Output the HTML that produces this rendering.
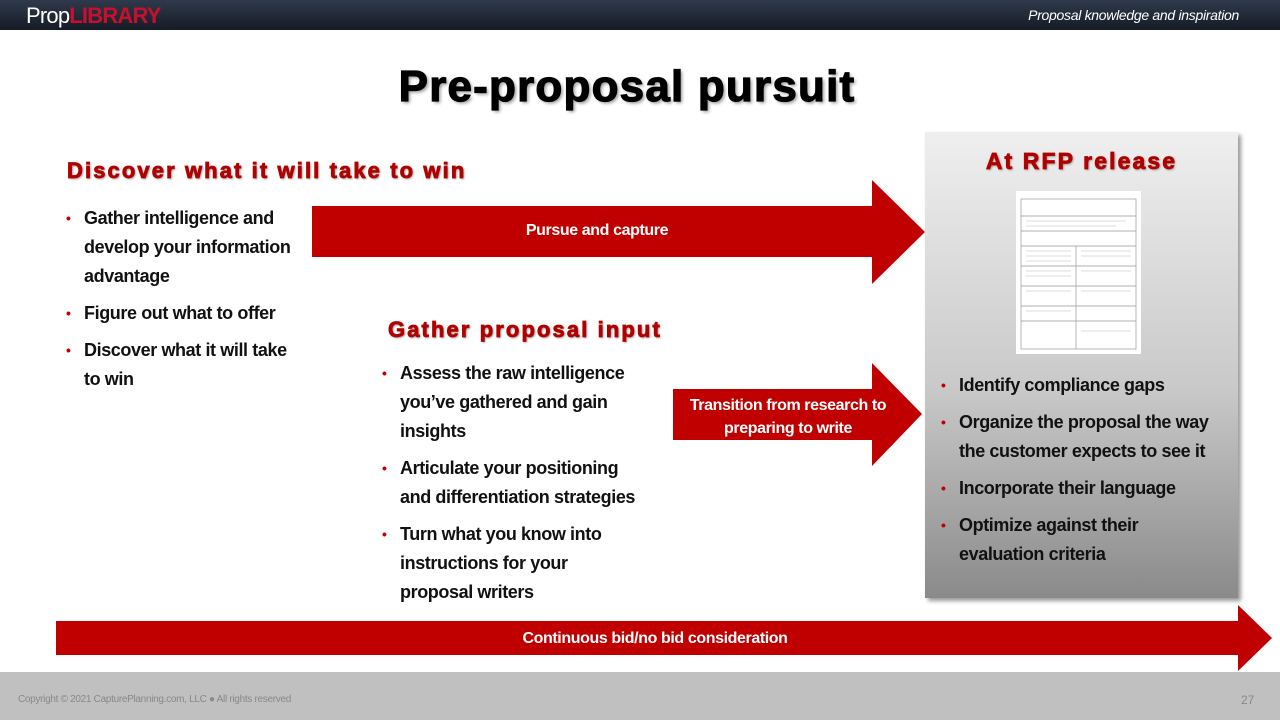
<!DOCTYPE html>
<html><head><meta charset="utf-8"><style>
*{margin:0;padding:0;box-sizing:border-box}
body{width:1280px;height:720px;position:relative;background:#fff;font-family:"Liberation Sans",sans-serif;overflow:hidden}
.abs{position:absolute}
.top{left:0;top:0;width:1280px;height:30px;background:linear-gradient(#2e3a4c,#161c26)}
.logo{left:26px;top:3px;font-size:22px;color:#fff;letter-spacing:-0.8px}
.logo span{color:#c8102e;font-weight:bold}
.tag{right:41px;top:7px;font-size:14px;font-style:italic;color:#fff;letter-spacing:-0.3px}
h1{position:absolute;left:0;width:1254px;text-align:center;top:62px;font-size:44px;font-weight:bold;color:#000;text-shadow:2px 2px 3px #999;letter-spacing:1.2px;-webkit-text-stroke:1.2px #000}
.h2{font-size:22px;font-weight:bold;color:#b00000;text-shadow:1px 1px 2px #888;letter-spacing:2.1px;-webkit-text-stroke:0.8px #b00000}
ul{list-style:none;position:absolute;font-weight:bold;font-size:18px;line-height:29px;color:#111;letter-spacing:-0.4px}
li{position:relative;padding-left:18px;margin-bottom:8px}
li:before{content:"•";position:absolute;left:0;color:#c00000;font-size:14px}
.panel{left:925px;top:132px;width:313px;height:466px;background:linear-gradient(#efefef,#c9c9c9 55%,#8a8a8a);box-shadow:3px 3px 4px #999}
.lab{color:#fff;font-weight:bold;font-size:16px;text-align:center;letter-spacing:-0.4px}
.foot{left:0;top:672px;width:1280px;height:48px;background:#c0c0c0}
</style></head><body>
<div class="abs top"></div>
<div class="abs logo">Prop<span>LIBRARY</span></div>
<div class="abs tag">Proposal knowledge and inspiration</div>
<h1>Pre-proposal pursuit</h1>
<div class="abs h2" style="left:67px;top:158px">Discover what it will take to win</div>
<ul style="left:66px;top:204px;width:240px">
<li>Gather intelligence and develop your information advantage</li>
<li>Figure out what to offer</li>
<li>Discover what it will take to win</li>
</ul>
<div class="abs panel"></div>
<div class="abs h2" style="left:925px;width:313px;text-align:center;top:148px;font-size:23px">At RFP release</div>
<svg class="abs" style="left:1016px;top:191px" width="125" height="163">
<rect width="125" height="163" fill="#fff"/>
<g stroke="#999" stroke-width="0.7" fill="none">
<rect x="5" y="8" width="115" height="150"/>
<line x1="5" y1="25" x2="120" y2="25"/><line x1="5" y1="40" x2="120" y2="40"/><line x1="5" y1="55" x2="120" y2="55"/>
<line x1="5" y1="75" x2="120" y2="75"/><line x1="5" y1="95" x2="120" y2="95"/><line x1="5" y1="115" x2="120" y2="115"/>
<line x1="5" y1="130" x2="120" y2="130"/><line x1="60" y1="55" x2="60" y2="158"/>
</g>
<g stroke="#bbb" stroke-width="0.5">
<line x1="10" y1="30" x2="110" y2="30"/><line x1="10" y1="35" x2="100" y2="35"/><line x1="10" y1="60" x2="55" y2="60"/><line x1="10" y1="65" x2="55" y2="65"/><line x1="10" y1="70" x2="55" y2="70"/><line x1="65" y1="60" x2="115" y2="60"/><line x1="65" y1="65" x2="115" y2="65"/><line x1="65" y1="80" x2="115" y2="80"/><line x1="10" y1="80" x2="55" y2="80"/><line x1="10" y1="85" x2="55" y2="85"/><line x1="10" y1="100" x2="55" y2="100"/><line x1="65" y1="100" x2="115" y2="100"/><line x1="10" y1="120" x2="55" y2="120"/><line x1="65" y1="140" x2="115" y2="140"/>
</g></svg>
<ul style="left:941px;top:371px;width:273px">
<li>Identify compliance gaps</li>
<li>Organize the proposal the way the customer expects to see it</li>
<li>Incorporate their language</li>
<li>Optimize against their evaluation criteria</li>
</ul>
<svg class="abs" style="left:0;top:0" width="1280" height="720">
<polygon points="312,206 872,206 872,180 925,232 872,284 872,257 312,257" fill="#c00000"/>
<polygon points="673,389 872,389 872,363 922,414 872,466 872,440 673,440" fill="#c00000"/>
<polygon points="56,621 1238,621 1238,605 1272,638 1238,671 1238,655 56,655" fill="#c00000"/>
</svg>
<div class="abs lab" style="left:312px;width:570px;top:222px">Pursue and capture</div>
<div class="abs lab" style="left:673px;width:230px;top:394px;line-height:23px">Transition from research to preparing to write</div>
<div class="abs lab" style="left:56px;width:1198px;top:630px">Continuous bid/no bid consideration</div>
<div class="abs h2" style="left:388px;top:317px">Gather proposal input</div>
<ul style="left:382px;top:359px;width:258px">
<li>Assess the raw intelligence you’ve gathered and gain insights</li>
<li>Articulate your positioning and differentiation strategies</li>
<li>Turn what you know into instructions for your proposal writers</li>
</ul>
<div class="abs foot"></div>
<div class="abs" style="left:18px;top:694px;font-size:10px;color:#888;letter-spacing:-0.3px">Copyright © 2021 CapturePlanning.com,  LLC ● All rights reserved</div>
<div class="abs" style="left:1241px;top:693px;font-size:12px;color:#888">27</div>
</body></html>
